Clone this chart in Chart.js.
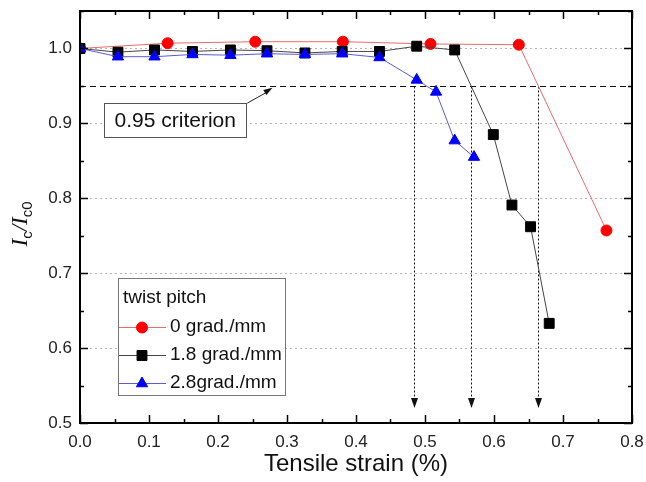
<!DOCTYPE html>
<html>
<head>
<meta charset="utf-8">
<script src="https://cdn.jsdelivr.net/npm/chart.js@4"></script>
<style>
  body { margin: 0; background: #fff; }
  canvas { display: block; }
</style>
</head>
<body>
<canvas id="icChart" width="646" height="482"></canvas>
<script>
// data
const strain0 = [0, 0.127, 0.254, 0.381, 0.508, 0.636, 0.763];
const ic0 = [1.000, 1.007, 1.009, 1.009, 1.006, 1.005, 0.757];

const strain18 = [0, 0.055, 0.108, 0.163, 0.218, 0.271, 0.326, 0.380, 0.434, 0.488, 0.543, 0.599, 0.626, 0.653, 0.680];
const ic18 = [1.000, 0.995, 0.998, 0.996, 0.998, 0.997, 0.994, 0.996, 0.996, 1.003, 0.998, 0.885, 0.791, 0.762, 0.633];

const strain28 = [0, 0.055, 0.108, 0.163, 0.218, 0.271, 0.326, 0.380, 0.434, 0.488, 0.516, 0.543, 0.571];
const ic28 = [1.000, 0.989, 0.989, 0.992, 0.991, 0.993, 0.992, 0.993, 0.988, 0.958, 0.942, 0.877, 0.855];

const seriesNames = ['0 grad./mm', '1.8 grad./mm', '2.8grad./mm'];
const legendTitle = 'twist pitch';

const xTicks = [0, 0.1, 0.2, 0.3, 0.4, 0.5, 0.6, 0.7, 0.8];
const yTicks = [0.5, 0.6, 0.7, 0.8, 0.9, 1.0];
const yGrid = [0.6, 0.7, 0.8, 0.9, 1.0];

const criterion = 0.95;
const criterionLabel = '0.95 criterion';
const arrowStrains = [0.484, 0.566, 0.664];

const toPoints = (xs, ys) => xs.map((v, i) => ({ x: v, y: ys[i] }));

const SANS = '"Liberation Sans", Arial, sans-serif';
const SERIF = '"Liberation Serif", "Times New Roman", serif';

function line(ctx, x1, y1, x2, y2) {
  ctx.beginPath();
  ctx.moveTo(x1, y1);
  ctx.lineTo(x2, y2);
  ctx.stroke();
}

function arrowHead(ctx, tx, ty, angle, len, half) {
  ctx.save();
  ctx.translate(tx, ty);
  ctx.rotate(angle);
  ctx.beginPath();
  ctx.moveTo(0, 0);
  ctx.lineTo(-len, -half);
  ctx.lineTo(-len, half);
  ctx.closePath();
  ctx.fill();
  ctx.restore();
}

// no extra room for the outer tick labels
function noPad(s) {
  s.paddingTop = 0;
  s.paddingBottom = 0;
  s.paddingLeft = 0;
  s.paddingRight = 0;
}

// grid, criterion line and arrows under the data
const backdrop = {
  id: 'backdrop',
  beforeDatasetsDraw(chart) {
    const { ctx, chartArea: a, scales: { x, y } } = chart;
    ctx.save();
    ctx.lineWidth = 1;
    ctx.strokeStyle = '#b4b4b4';
    ctx.setLineDash([2, 3]);
    yGrid.forEach(v => {
      const py = Math.round(y.getPixelForValue(v)) + 0.5;
      line(ctx, a.left, py, a.right, py);
    });

    // 0.95 criterion
    const cy = Math.round(y.getPixelForValue(criterion)) + 0.5;
    ctx.strokeStyle = '#111';
    ctx.setLineDash([6, 4]);
    line(ctx, a.left, cy, a.right, cy);

    // dotted arrows down to the strain axis
    ctx.fillStyle = '#111';
    const tipY = y.getPixelForValue(0.52);
    arrowStrains.forEach(s => {
      const px = Math.round(x.getPixelForValue(s)) + 0.5;
      ctx.setLineDash([2, 2]);
      line(ctx, px, cy, px, tipY - 8);
      ctx.setLineDash([]);
      arrowHead(ctx, px, tipY, Math.PI / 2, 10, 3.5);
    });
    ctx.restore();
  },
  afterDraw(chart) {
    const { ctx, chartArea: a, scales: { x, y } } = chart;
    ctx.save();

    // frame + inward ticks
    ctx.strokeStyle = '#000';
    ctx.lineWidth = 2;
    ctx.strokeRect(a.left, a.top, a.right - a.left, a.bottom - a.top);
    ctx.lineWidth = 1.5;
    for (let v = 0; v <= 0.8001; v += 0.05) {
      const px = Math.round(x.getPixelForValue(v)) + 0.5;
      const len = Math.abs(v * 10 - Math.round(v * 10)) < 0.01 ? 8 : 4;
      line(ctx, px, a.bottom, px, a.bottom - len);
      line(ctx, px, a.top, px, a.top + len);
    }
    for (let v = 0.5; v <= 1.0501; v += 0.05) {
      const py = Math.round(y.getPixelForValue(v)) + 0.5;
      const len = Math.abs(v * 10 - Math.round(v * 10)) < 0.01 ? 8 : 4;
      line(ctx, a.left, py, a.left + len, py);
      line(ctx, a.right, py, a.right - len, py);
    }

    // annotation box
    const bx1 = x.getPixelForValue(0.035), bx2 = x.getPixelForValue(0.241);
    const by1 = y.getPixelForValue(0.927), by2 = y.getPixelForValue(0.882);
    ctx.fillStyle = '#fff';
    ctx.fillRect(bx1, by1, bx2 - bx1, by2 - by1);
    ctx.strokeStyle = '#555';
    ctx.lineWidth = 1;
    ctx.strokeRect(Math.round(bx1) + 0.5, Math.round(by1) + 0.5, Math.round(bx2 - bx1), Math.round(by2 - by1));
    ctx.fillStyle = '#111';
    ctx.font = '21px ' + SANS;
    ctx.textAlign = 'center';
    ctx.textBaseline = 'middle';
    ctx.fillText(criterionLabel, (bx1 + bx2) / 2, (by1 + by2) / 2 + 1);
    // pointer to criterion line
    const ax1 = bx2 + 1, ay1 = by1;
    const ax2 = x.getPixelForValue(0.279), ay2 = y.getPixelForValue(0.9475);
    ctx.strokeStyle = '#222';
    line(ctx, ax1, ay1, ax2 - 4, ay2 + 3.5);
    ctx.fillStyle = '#111';
    arrowHead(ctx, ax2, ay2, Math.atan2(ay2 - ay1, ax2 - ax1), 9, 3);

    // legend
    const lx1 = 118, lx2 = 285, ly1 = 278, ly2 = 395;
    ctx.fillStyle = '#fff';
    ctx.fillRect(lx1, ly1, lx2 - lx1, ly2 - ly1);
    ctx.strokeStyle = '#777';
    ctx.strokeRect(lx1 + 0.5, ly1 + 0.5, lx2 - lx1, ly2 - ly1);
    ctx.fillStyle = '#111';
    ctx.font = '19px ' + SANS;
    ctx.textAlign = 'left';
    ctx.textBaseline = 'middle';
    ctx.fillText(legendTitle, 123, 298);
    const rows = [327, 355, 383];
    chart.data.datasets.forEach((ds, i) => {
      const ry = rows[i] + 0.5;
      ctx.strokeStyle = ds.borderColor;
      ctx.lineWidth = 1;
      line(ctx, lx1 + 1, ry, 166, ry);
      ctx.fillStyle = ds.pointBackgroundColor;
      ctx.strokeStyle = ds.pointBorderColor;
      Chart.helpers.drawPoint(ctx, {
        pointStyle: ds.pointStyle, radius: ds.pointRadius, rotation: 0, borderWidth: 1
      }, 142, ry);
      ctx.fillStyle = '#111';
      ctx.font = '19px ' + SANS;
      ctx.fillText(seriesNames[i], 170, rows[i]);
    });

    // x title
    ctx.fillStyle = '#111';
    ctx.font = '24px ' + SANS;
    ctx.textAlign = 'center';
    ctx.textBaseline = 'middle';
    ctx.fillText('Tensile strain (%)', (a.left + a.right) / 2, 464);

    // y title  I_c / I_c0
    const parts = [
      ['I', 'italic 23px ' + SERIF, 0],
      ['c', '15px ' + SANS, 5],
      ['/', 'italic 23px ' + SERIF, 0],
      ['I', 'italic 23px ' + SERIF, 0],
      ['c0', '15px ' + SANS, 5]
    ];
    let total = 0;
    parts.forEach(p => { ctx.font = p[1]; total += ctx.measureText(p[0]).width; });
    ctx.translate(27, 224);
    ctx.rotate(-Math.PI / 2);
    ctx.textAlign = 'left';
    ctx.textBaseline = 'alphabetic';
    let cx = -total / 2;
    parts.forEach(p => {
      ctx.font = p[1];
      ctx.fillText(p[0], cx, p[2]);
      cx += ctx.measureText(p[0]).width;
    });
    ctx.restore();
  }
};

new Chart(document.getElementById('icChart'), {
  type: 'scatter',
  data: {
    datasets: [
      {
        label: seriesNames[0],
        data: toPoints(strain0, ic0),
        showLine: true,
        borderColor: '#ec6b6b',
        borderWidth: 1,
        pointStyle: 'circle',
        pointRadius: 5.5,
        pointBackgroundColor: '#ff0000',
        pointBorderColor: '#ff0000',
        pointBorderWidth: 1,
        order: 2
      },
      {
        label: seriesNames[1],
        data: toPoints(strain18, ic18),
        showLine: true,
        borderColor: '#454545',
        borderWidth: 1,
        pointStyle: 'rect',
        pointRadius: 7,
        pointBackgroundColor: '#000',
        pointBorderColor: '#000',
        pointBorderWidth: 1,
        order: 1
      },
      {
        label: seriesNames[2],
        data: toPoints(strain28, ic28),
        showLine: true,
        borderColor: '#5a5ad6',
        borderWidth: 1,
        pointStyle: 'triangle',
        pointRadius: 6.5,
        pointBackgroundColor: '#0000ff',
        pointBorderColor: '#0000ff',
        pointBorderWidth: 1,
        order: 0
      }
    ]
  },
  options: {
    responsive: false,
    animation: false,
    layout: { padding: { left: 0, top: 11, right: 14, bottom: 0 } },
    plugins: {
      legend: { display: false },
      tooltip: { enabled: false }
    },
    scales: {
      x: {
        type: 'linear',
        min: 0,
        max: 0.8,
        afterFit: s => { s.height = 59; noPad(s); },
        afterBuildTicks: s => { s.ticks = xTicks.map(v => ({ value: v })); },
        grid: { display: false, drawTicks: false },
        border: { display: false },
        ticks: {
          padding: 9,
          color: '#222',
          font: { family: SANS, size: 17 },
          maxRotation: 0,
          callback: v => v.toFixed(1)
        }
      },
      y: {
        type: 'linear',
        min: 0.5,
        max: 1.05,
        afterFit: s => { s.width = 80; noPad(s); },
        afterBuildTicks: s => { s.ticks = yTicks.map(v => ({ value: v })); },
        grid: { display: false, drawTicks: false },
        border: { display: false },
        ticks: {
          padding: 8,
          color: '#222',
          font: { family: SANS, size: 17 },
          callback: v => v.toFixed(1)
        }
      }
    }
  },
  plugins: [backdrop]
});
</script>
</body>
</html>
